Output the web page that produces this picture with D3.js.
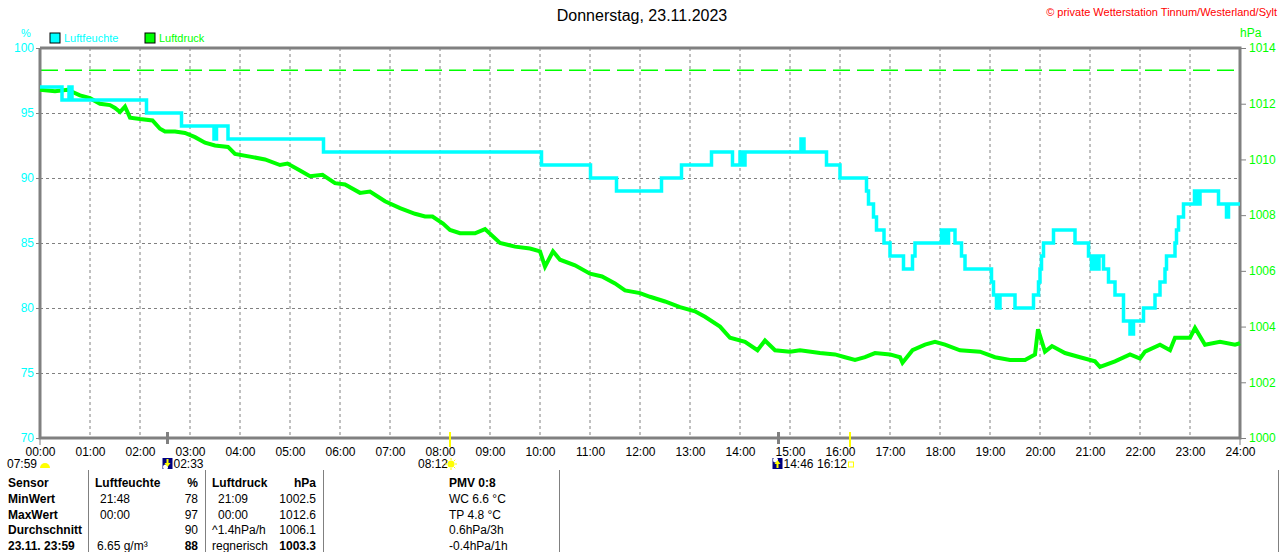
<!DOCTYPE html>
<html>
<head>
<meta charset="utf-8">
<script src="https://cdn.jsdelivr.net/npm/d3@7"></script>
<style>
body { margin: 0; background: #fff; }
svg { display: block; font-family: "Liberation Sans", Arial, sans-serif; font-size: 12px; }
</style>
</head>
<body>
<svg id="chart" width="1280" height="552"></svg>
<script>
// humidity (step values), time in hours
var humTime = [0, 0.44, 0.58, 0.64, 2.13, 2.83, 3.48, 3.53, 3.76, 5.67, 10.03, 11.01, 11.53, 12.43, 12.83, 13.43,
  13.85, 14.0, 14.04, 14.1, 15.22, 15.28, 15.73, 16.0, 16.53, 16.57, 16.67, 16.73, 16.88, 17.0, 17.27, 17.45,
  17.5, 18.03, 18.1, 18.17, 18.3, 18.43, 18.5, 19.03, 19.07, 19.13, 19.2, 19.5, 19.87, 19.97, 20.0, 20.03,
  20.07, 20.13, 20.27, 20.7, 20.97, 21.03, 21.08, 21.13, 21.18, 21.27, 21.37, 21.5, 21.67, 21.8, 21.87, 22.07,
  22.3, 22.4, 22.5, 22.53, 22.7, 22.73, 22.77, 22.87, 23.09, 23.15, 23.2, 23.57, 23.73, 23.77, 24];
var humValue = [97, 96, 97, 96, 95, 94, 93, 94, 93, 92, 91, 90, 89, 90, 91, 92,
  91, 92, 91, 92, 93, 92, 91, 90, 89, 88, 87, 86, 85, 84, 83, 84,
  85, 86, 85, 86, 85, 84, 83, 82, 81, 80, 81, 80, 81, 82, 83, 84,
  85, 85, 86, 85, 84, 83, 84, 83, 84, 83, 82, 81, 79, 78, 79, 80,
  81, 82, 83, 84, 85, 86, 87, 88, 89, 88, 89, 88, 87, 88, 88];

// pressure
var presTime = [0, 0.3, 0.55, 0.8, 1.0, 1.2, 1.4, 1.5, 1.6, 1.7, 1.8, 2.0, 2.25, 2.4, 2.5, 2.7, 2.9, 3.1, 3.3,
  3.5, 3.76, 3.9, 4.2, 4.5, 4.8, 4.95, 5.2, 5.4, 5.65, 5.9, 6.1, 6.4, 6.6, 6.9, 7.2, 7.5, 7.7, 7.85, 8.06,
  8.2, 8.4, 8.7, 8.9, 9.2, 9.5, 9.8, 10.0, 10.1, 10.26, 10.4, 10.7, 11.0, 11.24, 11.5, 11.7, 12.0, 12.2,
  12.5, 12.8, 13.1, 13.3, 13.6, 13.8, 14.1, 14.35, 14.5, 14.7, 15.0, 15.2, 15.6, 15.9, 16.1, 16.3, 16.5,
  16.7, 17.0, 17.2, 17.25, 17.45, 17.7, 17.9, 18.1, 18.4, 18.8, 19.1, 19.4, 19.7, 19.9, 19.96, 20.1,
  20.24, 20.5, 20.8, 21.1, 21.2, 21.5, 21.8, 22.0, 22.1, 22.4, 22.6, 22.7, 23.0, 23.1, 23.3, 23.6, 23.9, 24];
var presValue = [1012.5, 1012.45, 1012.5, 1012.3, 1012.2, 1012.0, 1011.95, 1011.85, 1011.7, 1011.9, 1011.5,
  1011.45, 1011.4, 1011.1, 1011.0, 1011.0, 1010.95, 1010.8, 1010.6, 1010.5, 1010.45, 1010.2, 1010.1, 1010.0,
  1009.8, 1009.85, 1009.6, 1009.4, 1009.45, 1009.15, 1009.1, 1008.8, 1008.85, 1008.5, 1008.25, 1008.05,
  1007.95, 1007.95, 1007.7, 1007.47, 1007.35, 1007.35, 1007.5, 1007.0, 1006.87, 1006.8, 1006.7, 1006.15,
  1006.7, 1006.4, 1006.2, 1005.9, 1005.8, 1005.55, 1005.3, 1005.2, 1005.07, 1004.9, 1004.7, 1004.55,
  1004.35, 1004.0, 1003.6, 1003.45, 1003.15, 1003.5, 1003.15, 1003.1, 1003.15, 1003.05, 1003.0, 1002.9,
  1002.8, 1002.9, 1003.05, 1003.0, 1002.9, 1002.7, 1003.15, 1003.35, 1003.45, 1003.35, 1003.15, 1003.1,
  1002.9, 1002.8, 1002.8, 1003.0, 1003.9, 1003.1, 1003.3, 1003.05, 1002.9, 1002.75, 1002.55, 1002.75,
  1003.0, 1002.85, 1003.1, 1003.35, 1003.15, 1003.6, 1003.6, 1003.95, 1003.35, 1003.45, 1003.35, 1003.4];

var refPressure = 1013.2;

var hourLabels = ["00:00", "01:00", "02:00", "03:00", "04:00", "05:00", "06:00", "07:00", "08:00", "09:00",
  "10:00", "11:00", "12:00", "13:00", "14:00", "15:00", "16:00", "17:00", "18:00", "19:00", "20:00",
  "21:00", "22:00", "23:00", "24:00"];
var humTicks = [70, 75, 80, 85, 90, 95, 100];
var presTicks = [1000, 1002, 1004, 1006, 1008, 1010, 1012, 1014];

// sun / moon events: hours, kind
var eventTime = [2.55, 8.2, 14.77, 16.2];
var eventKind = ["moon", "sun", "moon", "sun"];

var tableHeader = ["Sensor", "Luftfeuchte", "%", "Luftdruck", "hPa"];
var tableRows = ["MinWert", "MaxWert", "Durchschnitt", "23.11. 23:59"];
var humTimes = ["21:48", "00:00", "", "6.65 g/m³"];
var humVals = ["78", "97", "90", "88"];
var presTimes = ["21:09", "00:00", "^1.4hPa/h", "regnerisch"];
var presVals = ["1002.5", "1012.6", "1006.1", "1003.3"];
var pmvLines = ["PMV 0:8", "WC 6.6 °C", "TP 4.8 °C", "0.6hPa/3h", "-0.4hPa/1h"];

var cyan = "#00ffff", green = "#00ff00", gray = "#808080";

var svg = d3.select("#chart");

var x = d3.scaleLinear().domain([0, 24]).range([40, 1240]);
var yHum = d3.scaleLinear().domain([70, 100]).range([438, 48]);
var yPres = d3.scaleLinear().domain([1000, 1014]).range([438, 48]);

// grid
svg.append("g").selectAll("line").data(d3.range(1, 24)).join("line")
  .attr("x1", d => x(d)).attr("x2", d => x(d))
  .attr("y1", 48).attr("y2", 438)
  .attr("stroke", gray).attr("stroke-dasharray", "3,3");
svg.append("g").selectAll("line").data([75, 80, 85, 90, 95]).join("line")
  .attr("x1", 40).attr("x2", 1240)
  .attr("y1", d => yHum(d) + 0.5).attr("y2", d => yHum(d) + 0.5)
  .attr("stroke", gray).attr("stroke-dasharray", "3,3");

// reference pressure line
svg.append("line")
  .attr("x1", 41).attr("x2", 1240)
  .attr("y1", yPres(refPressure)).attr("y2", yPres(refPressure))
  .attr("stroke", green).attr("stroke-width", 1.5).attr("stroke-dasharray", "17,7");

// axes
var xAxis = svg.append("g").attr("transform", "translate(0,438)")
  .call(d3.axisBottom(x).tickValues(d3.range(0, 25)).tickSize(0).tickPadding(9)
    .tickFormat(d => hourLabels[d]));
xAxis.select(".domain").remove();
xAxis.selectAll("text").attr("fill", "#000").style("font-size", "12px")
  .style("font-family", "Liberation Sans, Arial, sans-serif");

var leftAxis = svg.append("g").attr("transform", "translate(40,0)")
  .call(d3.axisLeft(yHum).tickValues(humTicks).tickSize(4).tickPadding(2));
leftAxis.select(".domain").remove();
leftAxis.selectAll("line").attr("stroke", gray);
leftAxis.selectAll("text").attr("fill", cyan).style("font-size", "12px")
  .style("font-family", "Liberation Sans, Arial, sans-serif");

var rightAxis = svg.append("g").attr("transform", "translate(1240,0)")
  .call(d3.axisRight(yPres).tickValues(presTicks).tickSize(6).tickPadding(3).tickFormat(d3.format("d")));
rightAxis.select(".domain").remove();
rightAxis.selectAll("line").attr("stroke", gray);
rightAxis.selectAll("text").attr("fill", green).style("font-size", "12px")
  .style("font-family", "Liberation Sans, Arial, sans-serif");

// hour ticks below the axis at ends
svg.append("g").selectAll("line").data([0, 24]).join("line")
  .attr("x1", d => x(d)).attr("x2", d => x(d))
  .attr("y1", 438).attr("y2", 445).attr("stroke", gray).attr("stroke-width", 1);

// frame
svg.append("path")
  .attr("d", "M40,48 V438 H1240 V48 H40")
  .attr("fill", "none").attr("stroke", gray).attr("stroke-width", 3);

// series
var humLine = d3.line().curve(d3.curveStepAfter)
  .x((d, i) => x(humTime[i])).y(d => yHum(d));
var presLine = d3.line()
  .x((d, i) => x(presTime[i])).y(d => yPres(d));

svg.append("path").datum(presValue)
  .attr("d", presLine)
  .attr("fill", "none").attr("stroke", green).attr("stroke-width", 4)
  .attr("stroke-linejoin", "miter");
svg.append("path").datum(humValue)
  .attr("d", humLine)
  .attr("fill", "none").attr("stroke", cyan).attr("stroke-width", 3.5);

// units, legend, title
svg.append("text").attr("x", 26).attr("y", 37).attr("text-anchor", "middle")
  .attr("fill", cyan).style("font-size", "11px").text("%");
svg.append("text").attr("x", 1240).attr("y", 37)
  .attr("fill", green).style("font-size", "12px").text("hPa");

var legend = svg.append("g");
legend.selectAll("rect").data([cyan, green]).join("rect")
  .attr("x", (d, i) => 50 + i * 95).attr("y", 33).attr("width", 10).attr("height", 10)
  .attr("fill", d => d).attr("stroke", "#000");
legend.selectAll("text").data(["Luftfeuchte", "Luftdruck"]).join("text")
  .attr("x", (d, i) => 64 + i * 95).attr("y", 42)
  .attr("fill", (d, i) => i ? green : cyan).style("font-size", "11px").text(d => d);

svg.append("text").attr("x", 642).attr("y", 21).attr("text-anchor", "middle")
  .style("font-size", "16px").attr("fill", "#000").text("Donnerstag, 23.11.2023");
svg.append("text").attr("x", 1277).attr("y", 16).attr("text-anchor", "end")
  .style("font-size", "11px").attr("fill", "#ff0000")
  .text("© private Wetterstation Tinnum/Westerland/Sylt");

// sun / moon markers
svg.append("g").selectAll("line").data(eventTime).join("line")
  .attr("x1", d => x(d)).attr("x2", d => x(d))
  .attr("y1", 432).attr("y2", (d, i) => eventKind[i] == "sun" ? 447 : 444)
  .attr("stroke", (d, i) => eventKind[i] == "sun" ? "#ffff00" : gray)
  .attr("stroke-width", (d, i) => eventKind[i] == "sun" ? 2 : 3);

function moonIcon(g, cx, arrowUp) {
  g.append("rect").attr("x", cx).attr("y", 458).attr("width", 10).attr("height", 11).attr("fill", "#000080");
  g.append("circle").attr("cx", cx + 3).attr("cy", arrowUp ? 460 : 467).attr("r", 2.5).attr("fill", "#fff");
  g.append("path")
    .attr("d", arrowUp
      ? "M" + (cx + 5) + ",460 l-3,4 h2 v4 h2 v-4 h2 z"
      : "M" + (cx + 5) + ",467 l-3,-4 h2 v-4 h2 v4 h2 z")
    .attr("fill", "#ffff00");
}

var icons = svg.append("g");
icons.append("text").attr("x", 7).attr("y", 468).text("07:59");
icons.append("path").attr("d", "M40,468 a5,5 0 0 1 10,0 z").attr("fill", "#ffff00");
moonIcon(icons, x(eventTime[0]) - 5, false);
icons.append("text").attr("x", x(eventTime[0]) + 6).attr("y", 468).text("02:33");
icons.append("text").attr("x", 418).attr("y", 468).text("08:12");
icons.append("circle").attr("cx", x(eventTime[1]) + 1).attr("cy", 464).attr("r", 3.5).attr("fill", "#ffff00");
icons.selectAll("line.ray").data(d3.range(8)).join("line").attr("class", "ray")
  .attr("x1", d => x(eventTime[1]) + 1 + Math.cos(d * Math.PI / 4) * 4)
  .attr("y1", d => 464 + Math.sin(d * Math.PI / 4) * 4)
  .attr("x2", d => x(eventTime[1]) + 1 + Math.cos(d * Math.PI / 4) * 6)
  .attr("y2", d => 464 + Math.sin(d * Math.PI / 4) * 6)
  .attr("stroke", "#ffff00").attr("stroke-width", 1);
moonIcon(icons, x(eventTime[2]) - 6, true);
icons.append("text").attr("x", x(eventTime[2]) + 5).attr("y", 468).text("14:46");
icons.append("text").attr("x", 817).attr("y", 468).text("16:12");
icons.append("rect").attr("x", x(eventTime[3]) - 1.5).attr("y", 462).attr("width", 5).attr("height", 5)
  .attr("fill", "none").attr("stroke", "#ffff00");
icons.selectAll("text").attr("fill", "#000").style("font-size", "12px");

// table
var table = svg.append("g");
table.selectAll("line").data([88, 205, 323, 559, 1278]).join("line")
  .attr("x1", d => d + 0.5).attr("x2", d => d + 0.5).attr("y1", 470).attr("y2", 552)
  .attr("stroke", gray);

var rowY = d3.range(5).map(i => 487 + i * 15.8);
function cell(txt, xPos, yPos, anchor, bold) {
  table.append("text").attr("x", xPos).attr("y", yPos).attr("text-anchor", anchor || "start")
    .style("font-weight", bold ? "bold" : "normal").style("font-size", "12px")
    .attr("fill", "#000").text(txt);
}
cell(tableHeader[0], 8, rowY[0], "start", true);
cell(tableHeader[1], 95, rowY[0], "start", true);
cell(tableHeader[2], 198, rowY[0], "end", true);
cell(tableHeader[3], 212, rowY[0], "start", true);
cell(tableHeader[4], 316, rowY[0], "end", true);
tableRows.forEach(function(r, i) {
  cell(r, 8, rowY[i + 1], "start", true);
  cell(humTimes[i], i == 3 ? 97 : 100, rowY[i + 1], "start", false);
  cell(humVals[i], 198, rowY[i + 1], "end", i == 3);
  cell(presTimes[i], i < 2 ? 218 : 212, rowY[i + 1], "start", false);
  cell(presVals[i], 316, rowY[i + 1], "end", i == 3);
});
pmvLines.forEach(function(t, i) {
  cell(t, 449, rowY[i], "start", i == 0);
});
</script>
</body>
</html>
